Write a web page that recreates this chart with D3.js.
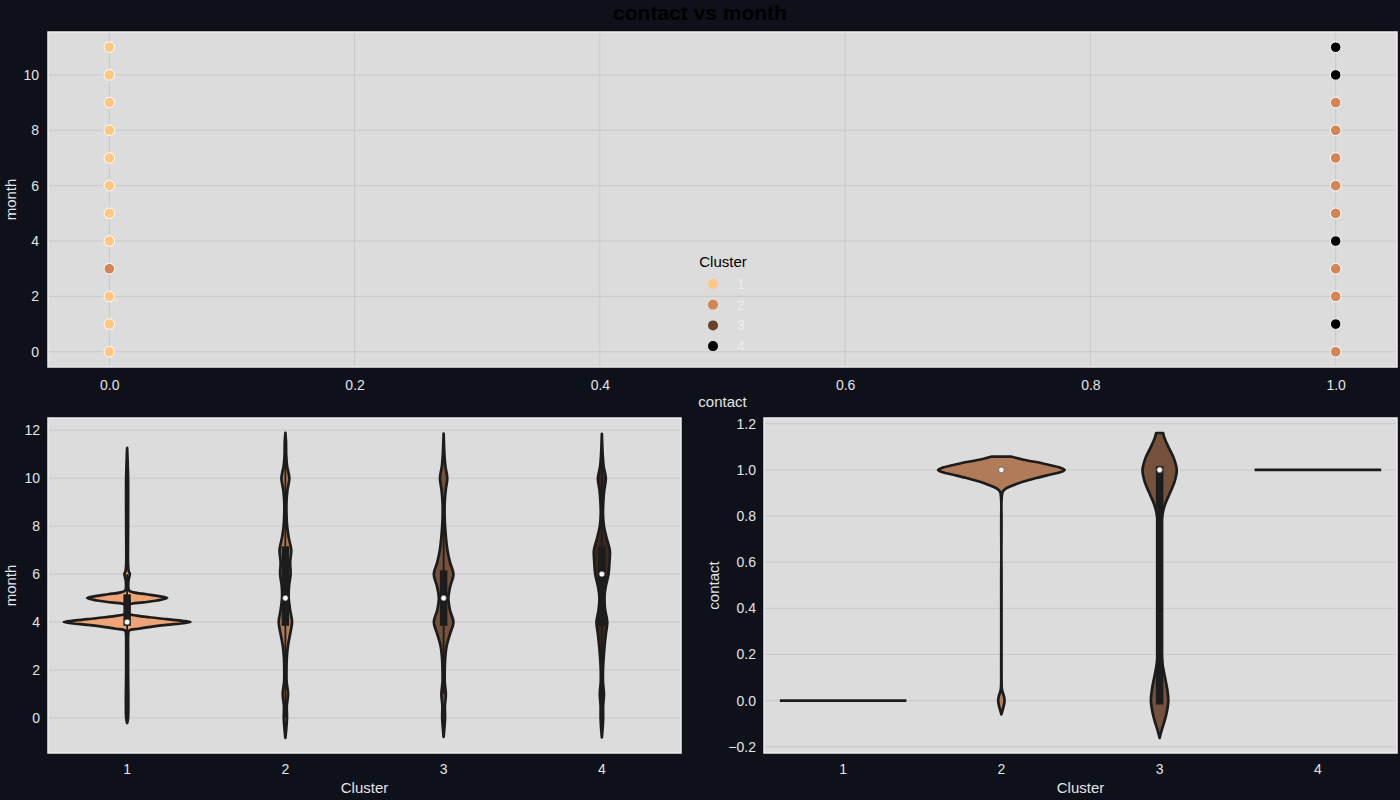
<!DOCTYPE html>
<html>
<head>
<meta charset="utf-8">
<script src="https://cdn.jsdelivr.net/npm/d3@7"></script>
<style>
  html, body { margin: 0; padding: 0; background: #0e111a; }
  svg { display: block; }
  text { font-family: "Liberation Sans", Arial, sans-serif; }
</style>
</head>
<body>
<svg id="chart" width="1400" height="800"></svg>
<script>
// ---------------- DATA ----------------
const clusters = ["1", "2", "3", "4"];
const months = [0, 1, 2, 3, 4, 5, 6, 7, 8, 9, 10, 11];
// visible cluster of the scatter point at each month (index = month)
const clusterAtContact0 = [1, 1, 1, 2, 1, 1, 1, 1, 1, 1, 1, 1];
const clusterAtContact1 = [2, 4, 2, 2, 4, 2, 2, 2, 2, 2, 4, 4];

const scatterColors = ["#ffc77f", "#d48555", "#6a422a", "#000000"];
const violinColors = ["#eea474", "#b17b5a", "#76523c", "#3b291e"];

const topXTicks = [0.0, 0.2, 0.4, 0.6, 0.8, 1.0];
const topYTicks = [0, 2, 4, 6, 8, 10];
const monthTicks = [0, 2, 4, 6, 8, 10, 12];
const contactTicks = [-0.2, 0.0, 0.2, 0.4, 0.6, 0.8, 1.0, 1.2];

// violin outlines: [value, half width as fraction of category band]
const monthViolin1 = [[-0.21,0],[0,0.006],[2,0.006],[3,0.006],[3.5,0.007],[3.64,0.012],[3.72,0.07],[3.8,0.15],[3.88,0.25],[3.95,0.35],[4.0,0.4],[4.05,0.35],[4.12,0.25],[4.2,0.14],[4.27,0.06],[4.33,0.015],[4.4,0.01],[4.6,0.01],[4.74,0.018],[4.82,0.1],[4.9,0.19],[5.0,0.253],[5.08,0.2],[5.16,0.12],[5.24,0.04],[5.32,0.012],[5.7,0.008],[5.9,0.014],[6.0,0.017],[6.12,0.01],[6.4,0.006],[8,0.006],[10,0.006],[11.26,0]];
const monthViolin2 = [[-0.83,0],[-0.5,0.005],[0,0.01],[0.5,0.009],[1,0.017],[1.5,0.008],[2,0.007],[2.5,0.009],[3,0.016],[3.5,0.03],[4,0.042],[4.5,0.03],[5,0.021],[5.5,0.023],[6,0.033],[6.5,0.03],[7,0.037],[7.5,0.022],[8,0.011],[8.5,0.007],[9,0.007],[9.5,0.013],[10,0.025],[10.5,0.011],[11,0.005],[11.5,0.004],[11.89,0]];
const monthViolin3 = [[-0.79,0],[-0.4,0.005],[0,0.009],[0.5,0.008],[1,0.014],[1.5,0.007],[2,0.007],[2.5,0.01],[3,0.019],[3.5,0.04],[4,0.062],[4.5,0.04],[5,0.03],[5.5,0.042],[6,0.062],[6.5,0.04],[7,0.024],[7.5,0.015],[8,0.009],[8.5,0.006],[9,0.007],[9.5,0.013],[10,0.023],[10.5,0.011],[11,0.005],[11.86,0]];
const monthViolin4 = [[-0.81,0],[-0.4,0.005],[0,0.008],[0.5,0.008],[1,0.013],[1.5,0.007],[2,0.007],[2.5,0.011],[3,0.017],[3.5,0.025],[4,0.034],[4.5,0.021],[5,0.015],[5.5,0.025],[6,0.042],[6.5,0.048],[7,0.05],[7.5,0.03],[8,0.013],[8.5,0.007],[9,0.009],[9.5,0.015],[10,0.025],[10.5,0.011],[11,0.005],[11.85,0]];
const contactViolin2 = [[-0.06,0],[-0.04,0.008],[-0.02,0.016],[0,0.02],[0.02,0.016],[0.04,0.006],[0.06,0.002],[0.1,0.001],[0.5,0.001],[0.88,0.002],[0.905,0.008],[0.92,0.03],[0.935,0.08],[0.95,0.14],[0.965,0.22],[0.98,0.31],[0.99,0.37],[1.0,0.4],[1.01,0.37],[1.02,0.31],[1.03,0.25],[1.044,0.14],[1.058,0.06]];
const contactViolin3 = [[-0.162,0],[-0.13,0.012],[-0.1,0.026],[-0.05,0.045],[0,0.055],[0.05,0.048],[0.1,0.034],[0.15,0.02],[0.2,0.012],[0.3,0.008],[0.5,0.007],[0.7,0.008],[0.8,0.016],[0.85,0.034],[0.9,0.065],[0.95,0.095],[1.0,0.108],[1.05,0.09],[1.1,0.055],[1.14,0.03],[1.16,0.022]];

// box statistics [q1, median, q3, whiskerLow, whiskerHigh]
const monthBoxes = [[4, 4, 5, 3, 6], [4, 5, 7, 0, 11], [4, 5, 6, 1, 9], [4, 6, 7, 0, 11]];
const contactBoxes = [null, [1, 1, 1, 1, 1], [0, 1, 1, 0, 1], null];
// single-valued clusters drawn as a flat line
const contactFlat = [[1, 0], [4, 1]];

// ---------------- DRAW ----------------
const svg = d3.select("#chart");
const BG = "#dcdcdc", GRID = "#c9c9c9", TXT = "#e4e4e4", EDGE = "#1c1c1c";

function panel(x0, y0, x1, y1) {
  svg.append("rect").attr("x", x0).attr("y", y0).attr("width", x1 - x0).attr("height", y1 - y0)
    .attr("fill", BG).attr("stroke", "#ebebeb").attr("stroke-width", 1.5);
}

svg.append("text").attr("x", 700).attr("y", 20).attr("text-anchor", "middle")
  .attr("font-size", 21).attr("font-weight", "bold").attr("fill", "#000").text("contact vs month");

// ----- top scatter -----
const T = {l: 48, r: 1397, t: 32, b: 367};
panel(T.l, T.t, T.r, T.b);
const xT = d3.scaleLinear().domain([-0.05, 1.05]).range([T.l, T.r]);
const yT = d3.scaleLinear().domain([-0.55, 11.55]).range([T.b, T.t]);
const gT = svg.append("g");
gT.selectAll(".vg").data(topXTicks).join("line").attr("x1", d => xT(d)).attr("x2", d => xT(d))
  .attr("y1", T.t + 1).attr("y2", T.b - 1).attr("stroke", GRID).attr("stroke-width", 1);
gT.selectAll(".hg").data(topYTicks).join("line").attr("y1", d => yT(d)).attr("y2", d => yT(d))
  .attr("x1", T.l + 1).attr("x2", T.r - 1).attr("stroke", GRID).attr("stroke-width", 1);
svg.append("g").attr("transform", `translate(0,${T.b})`)
  .call(d3.axisBottom(xT).tickValues(topXTicks).tickFormat(d3.format(".1f")).tickSize(0).tickPadding(13))
  .call(g => { g.select(".domain").remove(); g.selectAll("text").attr("fill", TXT).attr("font-size", 14).attr("font-family", "Liberation Sans, Arial"); });
svg.append("g").attr("transform", `translate(${T.l},0)`)
  .call(d3.axisLeft(yT).tickValues(topYTicks).tickFormat(d3.format("d")).tickSize(0).tickPadding(9))
  .call(g => { g.select(".domain").remove(); g.selectAll("text").attr("fill", TXT).attr("font-size", 14).attr("font-family", "Liberation Sans, Arial"); });
svg.append("text").attr("x", (T.l + T.r) / 2).attr("y", 407).attr("text-anchor", "middle")
  .attr("font-size", 15).attr("fill", TXT).text("contact");
svg.append("text").attr("transform", `translate(16,${(T.t + T.b) / 2}) rotate(-90)`).attr("text-anchor", "middle")
  .attr("font-size", 15).attr("fill", TXT).text("month");

const pts = months.map(m => ({x: 0, y: m, c: clusterAtContact0[m]}))
  .concat(months.map(m => ({x: 1, y: m, c: clusterAtContact1[m]})));
svg.append("g").selectAll("circle").data(pts).join("circle")
  .attr("cx", d => xT(d.x)).attr("cy", d => yT(d.y)).attr("r", 5.3)
  .attr("fill", d => scatterColors[d.c - 1]).attr("stroke", "#ffffff").attr("stroke-width", 1);

// legend
const lg = svg.append("g");
lg.append("text").attr("x", 723).attr("y", 267).attr("text-anchor", "middle").attr("font-size", 15).attr("fill", "#000").text("Cluster");
clusters.forEach((c, i) => {
  const yy = 284 + i * 20.7;
  lg.append("circle").attr("cx", 713).attr("cy", yy).attr("r", 5).attr("fill", scatterColors[i]);
  lg.append("text").attr("x", 737).attr("y", yy + 5).attr("font-size", 14).attr("fill", "#ececec").text(c);
});

// ----- violin helper -----
function violinPanel(P, yDomain, ticks, tickFmt, outlines, boxes, flats, ylabel, ylabelX) {
  panel(P.l, P.t, P.r, P.b);
  const x = d3.scaleBand().domain(clusters).range([P.l, P.r]).padding(0);
  const y = d3.scaleLinear().domain(yDomain).range([P.b, P.t]);
  const bw = x.bandwidth();
  svg.append("g").selectAll("line").data(ticks).join("line")
    .attr("x1", P.l + 1).attr("x2", P.r - 1).attr("y1", d => y(d)).attr("y2", d => y(d))
    .attr("stroke", GRID).attr("stroke-width", 1);
  svg.append("g").attr("transform", `translate(0,${P.b})`)
    .call(d3.axisBottom(x).tickSize(0).tickPadding(11))
    .call(g => { g.select(".domain").remove(); g.selectAll("text").attr("fill", TXT).attr("font-size", 14).attr("font-family", "Liberation Sans, Arial"); });
  svg.append("g").attr("transform", `translate(${P.l},0)`)
    .call(d3.axisLeft(y).tickValues(ticks).tickFormat(tickFmt).tickSize(0).tickPadding(8))
    .call(g => { g.select(".domain").remove(); g.selectAll("text").attr("fill", TXT).attr("font-size", 14).attr("font-family", "Liberation Sans, Arial"); });
  svg.append("text").attr("x", (P.l + P.r) / 2).attr("y", 793).attr("text-anchor", "middle")
    .attr("font-size", 15).attr("fill", TXT).text("Cluster");
  svg.append("text").attr("transform", `translate(${ylabelX},${(P.t + P.b) / 2}) rotate(-90)`).attr("text-anchor", "middle")
    .attr("font-size", 15).attr("fill", TXT).text(ylabel);

  const g = svg.append("g");
  clusters.forEach((c, i) => {
    const cx = x(c) + bw / 2;
    const o = outlines[i];
    if (o) {
      const area = d3.area().curve(d3.curveCatmullRom.alpha(0.5))
        .y(d => y(d[0])).x0(d => cx - d[1] * bw).x1(d => cx + d[1] * bw);
      g.append("path").attr("d", area(o)).attr("fill", violinColors[i])
        .attr("stroke", EDGE).attr("stroke-width", 2.7).attr("stroke-linejoin", "round");
    }
    const b = boxes[i];
    if (b) {
      if (b[3] !== b[4]) {
        g.append("line").attr("x1", cx).attr("x2", cx).attr("y1", y(b[3])).attr("y2", y(b[4]))
          .attr("stroke", EDGE).attr("stroke-width", 1.8);
      }
      if (b[0] !== b[2]) {
        g.append("line").attr("x1", cx).attr("x2", cx).attr("y1", y(b[0])).attr("y2", y(b[2]))
          .attr("stroke", EDGE).attr("stroke-width", 7.5).attr("stroke-linecap", "square");
      }
      g.append("circle").attr("cx", cx).attr("cy", y(b[1])).attr("r", 2.8)
        .attr("fill", "#ffffff").attr("stroke", "#3a3a3a").attr("stroke-width", 0.6);
    }
  });
  flats.forEach(f => {
    const cx = x(clusters[f[0] - 1]) + bw / 2;
    g.append("line").attr("x1", cx - 0.4 * bw).attr("x2", cx + 0.4 * bw)
      .attr("y1", y(f[1])).attr("y2", y(f[1])).attr("stroke", EDGE).attr("stroke-width", 2.8);
  });
}

violinPanel({l: 48, r: 681, t: 418, b: 753}, [-1.46, 12.51], monthTicks, d3.format("d"),
  [monthViolin1, monthViolin2, monthViolin3, monthViolin4], monthBoxes, [], "month", 16);

violinPanel({l: 764, r: 1397, t: 418, b: 753}, [-0.227, 1.225], contactTicks, d3.format(".1f"),
  [null, contactViolin2, contactViolin3, null], contactBoxes, contactFlat, "contact", 719);
</script>
</body>
</html>
